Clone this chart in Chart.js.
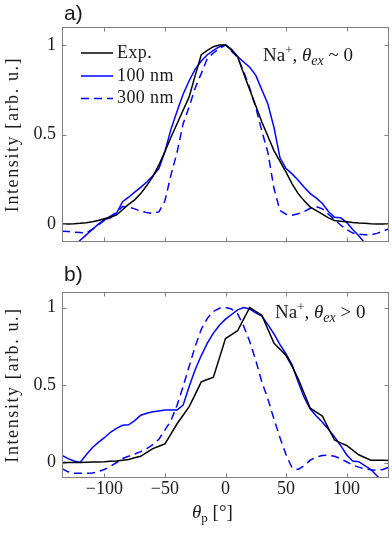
<!DOCTYPE html>
<html><head><meta charset="utf-8">
<script src="https://cdn.jsdelivr.net/npm/chart.js@4/dist/chart.umd.min.js"></script>
<style>
html,body{margin:0;padding:0;background:#fff;}
#wrap{position:relative;width:392px;height:537px;overflow:hidden;background:#fff;}
canvas{position:absolute;left:0;}
</style></head><body>
<div id="wrap">
<canvas id="ca" width="392" height="262" style="top:0;width:392px;height:262px"></canvas>
<canvas id="cb" width="392" height="275" style="top:262px;width:392px;height:275px"></canvas>
</div>
<script>
// ---- data ----
const theta = [-135,-130,-125,-120,-115,-110,-105,-100,-95,-90,-85,-80,-75,-70,-65,-60,-55,-50,-45,-40,-35,-30,-25,-20,-15,-10,-5,0,5,10,15,20,25,30,35,40,45,50,55,60,65,70,75,80,85,90,95,100,105,110,115,120,125,130,135];
const seriesNames = ['Exp.','100 nm','300 nm'];

const expA = [0.000,0.001,0.002,0.004,0.008,0.013,0.020,0.030,0.040,0.050,0.080,0.110,0.135,0.170,0.215,0.265,0.330,0.405,0.485,0.560,0.635,0.710,0.830,0.945,0.970,0.990,1.000,1.000,0.970,0.935,0.840,0.750,0.660,0.570,0.490,0.410,0.350,0.290,0.225,0.170,0.130,0.095,0.075,0.055,0.035,0.020,0.016,0.013,0.009,0.006,0.004,0.002,0.001,0.000,0.000];
const sim100A = [-0.190,-0.160,-0.125,-0.090,-0.060,-0.030,0.000,0.025,0.035,0.060,0.125,0.150,0.178,0.205,0.235,0.270,0.310,0.405,0.530,0.630,0.725,0.800,0.865,0.910,0.945,0.970,0.990,1.000,0.975,0.935,0.905,0.875,0.830,0.750,0.670,0.540,0.370,0.310,0.280,0.245,0.205,0.170,0.145,0.115,0.070,0.038,0.035,0.010,-0.030,-0.065,-0.105,-0.145,-0.185,-0.225,-0.265];
const sim300A = [-0.040,-0.042,-0.045,-0.047,-0.050,-0.030,-0.005,0.020,0.045,0.065,0.098,0.095,0.085,0.072,0.064,0.060,0.068,0.130,0.275,0.400,0.560,0.655,0.760,0.840,0.925,0.955,0.980,1.000,0.965,0.930,0.850,0.760,0.650,0.520,0.400,0.200,0.075,0.055,0.050,0.058,0.070,0.088,0.097,0.085,0.055,0.025,-0.005,-0.030,-0.050,-0.056,-0.060,-0.060,-0.052,-0.040,-0.025];

const expB = [0.000,0.000,0.000,0.000,0.002,0.003,0.004,0.005,0.008,0.010,0.015,0.020,0.030,0.040,0.065,0.090,0.105,0.120,0.185,0.250,0.305,0.360,0.440,0.520,0.535,0.550,0.675,0.800,0.825,0.850,0.925,1.000,0.975,0.950,0.860,0.770,0.730,0.690,0.620,0.540,0.445,0.350,0.325,0.300,0.220,0.145,0.127,0.110,0.080,0.050,0.032,0.015,0.015,0.015,0.013];
const sim100B = [0.045,0.025,0.010,0.000,0.050,0.095,0.130,0.160,0.195,0.220,0.240,0.243,0.270,0.305,0.318,0.328,0.333,0.338,0.338,0.338,0.370,0.490,0.600,0.690,0.770,0.835,0.885,0.925,0.955,0.985,1.000,0.990,0.965,0.945,0.890,0.830,0.760,0.700,0.630,0.520,0.420,0.345,0.300,0.260,0.215,0.165,0.110,0.050,0.010,0.005,-0.020,-0.045,-0.085,-0.125,-0.165];
const sim300B = [-0.040,-0.060,-0.070,-0.070,-0.070,-0.068,-0.058,-0.045,-0.025,0.000,0.026,0.040,0.055,0.070,0.090,0.115,0.150,0.210,0.270,0.370,0.490,0.620,0.750,0.860,0.930,0.975,0.995,1.000,0.990,0.960,0.880,0.780,0.660,0.520,0.410,0.280,0.160,0.050,-0.035,-0.045,-0.020,0.015,0.035,0.045,0.047,0.040,0.025,0.005,-0.017,-0.030,-0.040,-0.047,-0.050,-0.045,-0.030];

const xTickValues = [-100,-50,0,50,100];
const xTickLabels = ['\u2212100','\u221250','0','50','100'];
const yTickValues = [0,0.5,1];
const yTickLabels = ['0','0.5','1'];
const yTitle = 'Intensity [arb. u.]';

// ---- styling ----
const SERIF = '"Liberation Serif","Times New Roman",serif';
const SANS = '"Liberation Sans",Arial,sans-serif';
const BOX = '#808080';
const TXT = '#1a1a1a';
const BLUE = '#0000ff';

function pts(arr){ return theta.map((t,i)=>({x:t,y:arr[i]})); }

function drawRich(ctx, x, y, segs){
  let cx = x;
  for (const s of segs){
    ctx.font = s.f;
    ctx.fillText(s.t, cx, y + (s.dy||0));
    cx += ctx.measureText(s.t).width;
  }
}

const decor = {
  id:'decor',
  afterDatasetsDraw(chart, args, o){
    const ctx = chart.ctx, a = chart.chartArea, xs = chart.scales.x, ys = chart.scales.y;
    ctx.save();
    // box
    ctx.strokeStyle = BOX; ctx.lineWidth = 1;
    ctx.strokeRect(Math.round(a.left)+0.5, Math.round(a.top)+0.5, Math.round(a.right-a.left)-1, Math.round(a.bottom-a.top)-1);
    // inward ticks
    const TL = 4.5;
    ctx.beginPath();
    xTickValues.forEach(v=>{
      const px = Math.round(xs.getPixelForValue(v))+0.5;
      ctx.moveTo(px, a.bottom); ctx.lineTo(px, a.bottom-TL);
      ctx.moveTo(px, a.top); ctx.lineTo(px, a.top+TL);
    });
    yTickValues.forEach(v=>{
      const py = Math.round(ys.getPixelForValue(v))+0.5;
      ctx.moveTo(a.left, py); ctx.lineTo(a.left+TL, py);
      ctx.moveTo(a.right, py); ctx.lineTo(a.right-TL, py);
    });
    ctx.stroke();
    ctx.fillStyle = TXT;
    ctx.textAlign = 'left';
    // y title (rotated)
    ctx.save();
    ctx.translate(13, (a.top + a.bottom)/2);
    ctx.rotate(-Math.PI/2);
    ctx.font = '18px ' + SERIF;
    try { ctx.letterSpacing = '1.6px'; } catch(e) {}
    ctx.textAlign = 'center'; ctx.textBaseline = 'middle';
    ctx.fillText(yTitle, 0, 0);
    ctx.restore();
    // panel letter
    ctx.textBaseline = 'alphabetic';
    ctx.font = '21px ' + SANS;
    ctx.fillText(o.letter, 64, o.letterY);
    // annotation
    drawRich(ctx, o.annX, o.annY, [
      {t:'Na', f:'19px '+SERIF},
      {t:'+', f:'13px '+SERIF, dy:-7},
      {t:', ', f:'19px '+SERIF},
      {t:'\u03B8', f:'italic 19px '+SERIF},
      {t:'ex', f:'italic 14px '+SERIF, dy:4},
      {t:o.annTail, f:'19px '+SERIF}
    ]);
    // legend
    if (o.legend){
      const rows = [53, 76, 98.5];
      chart.data.datasets.forEach((d,i)=>{
        ctx.strokeStyle = d.borderColor; ctx.lineWidth = d.borderWidth;
        ctx.setLineDash(d.borderDash || []);
        ctx.beginPath(); ctx.moveTo(81, rows[i]); ctx.lineTo(113, rows[i]); ctx.stroke();
        ctx.setLineDash([]);
        ctx.fillStyle = TXT; ctx.font = '18px '+SERIF; ctx.textBaseline = 'middle';
        try { ctx.letterSpacing = '0.4px'; } catch(e) {}
        ctx.fillText(d.label, 117, rows[i]);
        try { ctx.letterSpacing = '0px'; } catch(e) {}
      });
    }
    // x title
    if (o.xTitle){
      ctx.textBaseline = 'alphabetic'; ctx.fillStyle = TXT;
      drawRich(ctx, 192, o.xTitleY, [
        {t:'\u03B8', f:'italic 19px '+SERIF},
        {t:'p', f:'13px '+SERIF, dy:4},
        {t:' [\u00B0]', f:'19px '+SERIF}
      ]);
    }
    ctx.restore();
  }
};

function makeChart(id, series, o){
  return new Chart(document.getElementById(id), {
    type:'line',
    data:{datasets:[
      {label:seriesNames[0], data:pts(series[0]), borderColor:'#000000', borderWidth:1.5, pointRadius:0, tension:0, fill:false},
      {label:seriesNames[1], data:pts(series[1]), borderColor:BLUE, borderWidth:1.5, pointRadius:0, tension:0, fill:false},
      {label:seriesNames[2], data:pts(series[2]), borderColor:BLUE, borderWidth:1.5, borderDash:[8,5], pointRadius:0, tension:0, fill:false}
    ]},
    options:{
      responsive:false, animation:false, devicePixelRatio:1,
      layout:{padding:{top:o.padTop, right:3, left:0, bottom:0}},
      plugins:{legend:{display:false}, tooltip:{enabled:false}, decor:o},
      scales:{
        x:{type:'linear', min:-135, max:135,
           grid:{display:false, drawTicks:false}, border:{display:false},
           afterBuildTicks:s=>{ s.ticks = xTickValues.map(v=>({value:v})); },
           ticks:{display:o.showX, autoSkip:false, maxRotation:0, padding:0,
                  callback:v=>xTickLabels[xTickValues.indexOf(v)],
                  font:{family:SERIF, size:18}, color:TXT},
           afterFit:s=>{ s.height = o.xH; }},
        y:{min:-0.1, max:1.1,
           grid:{display:false, drawTicks:false}, border:{display:false},
           afterBuildTicks:s=>{ s.ticks = yTickValues.map(v=>({value:v})); },
           ticks:{autoSkip:false, padding:6,
                  callback:v=>yTickLabels[yTickValues.indexOf(v)],
                  font:{family:SERIF, size:18}, color:TXT},
           afterFit:s=>{ s.width = 62; }}
      }
    },
    plugins:[decor]
  });
}

makeChart('ca', [expA, sim100A, sim300A], {
  padTop:27, xH:20, showX:false, letter:'a)', letterY:20,
  annX:263, annY:61, annTail:' ~ 0', legend:true, xTitle:false
});
makeChart('cb', [expB, sim100B, sim300B], {
  padTop:30, xH:59, showX:true, letter:'b)', letterY:19,
  annX:275, annY:56, annTail:' > 0', legend:false, xTitle:true, xTitleY:256
});
</script>
</body></html>
